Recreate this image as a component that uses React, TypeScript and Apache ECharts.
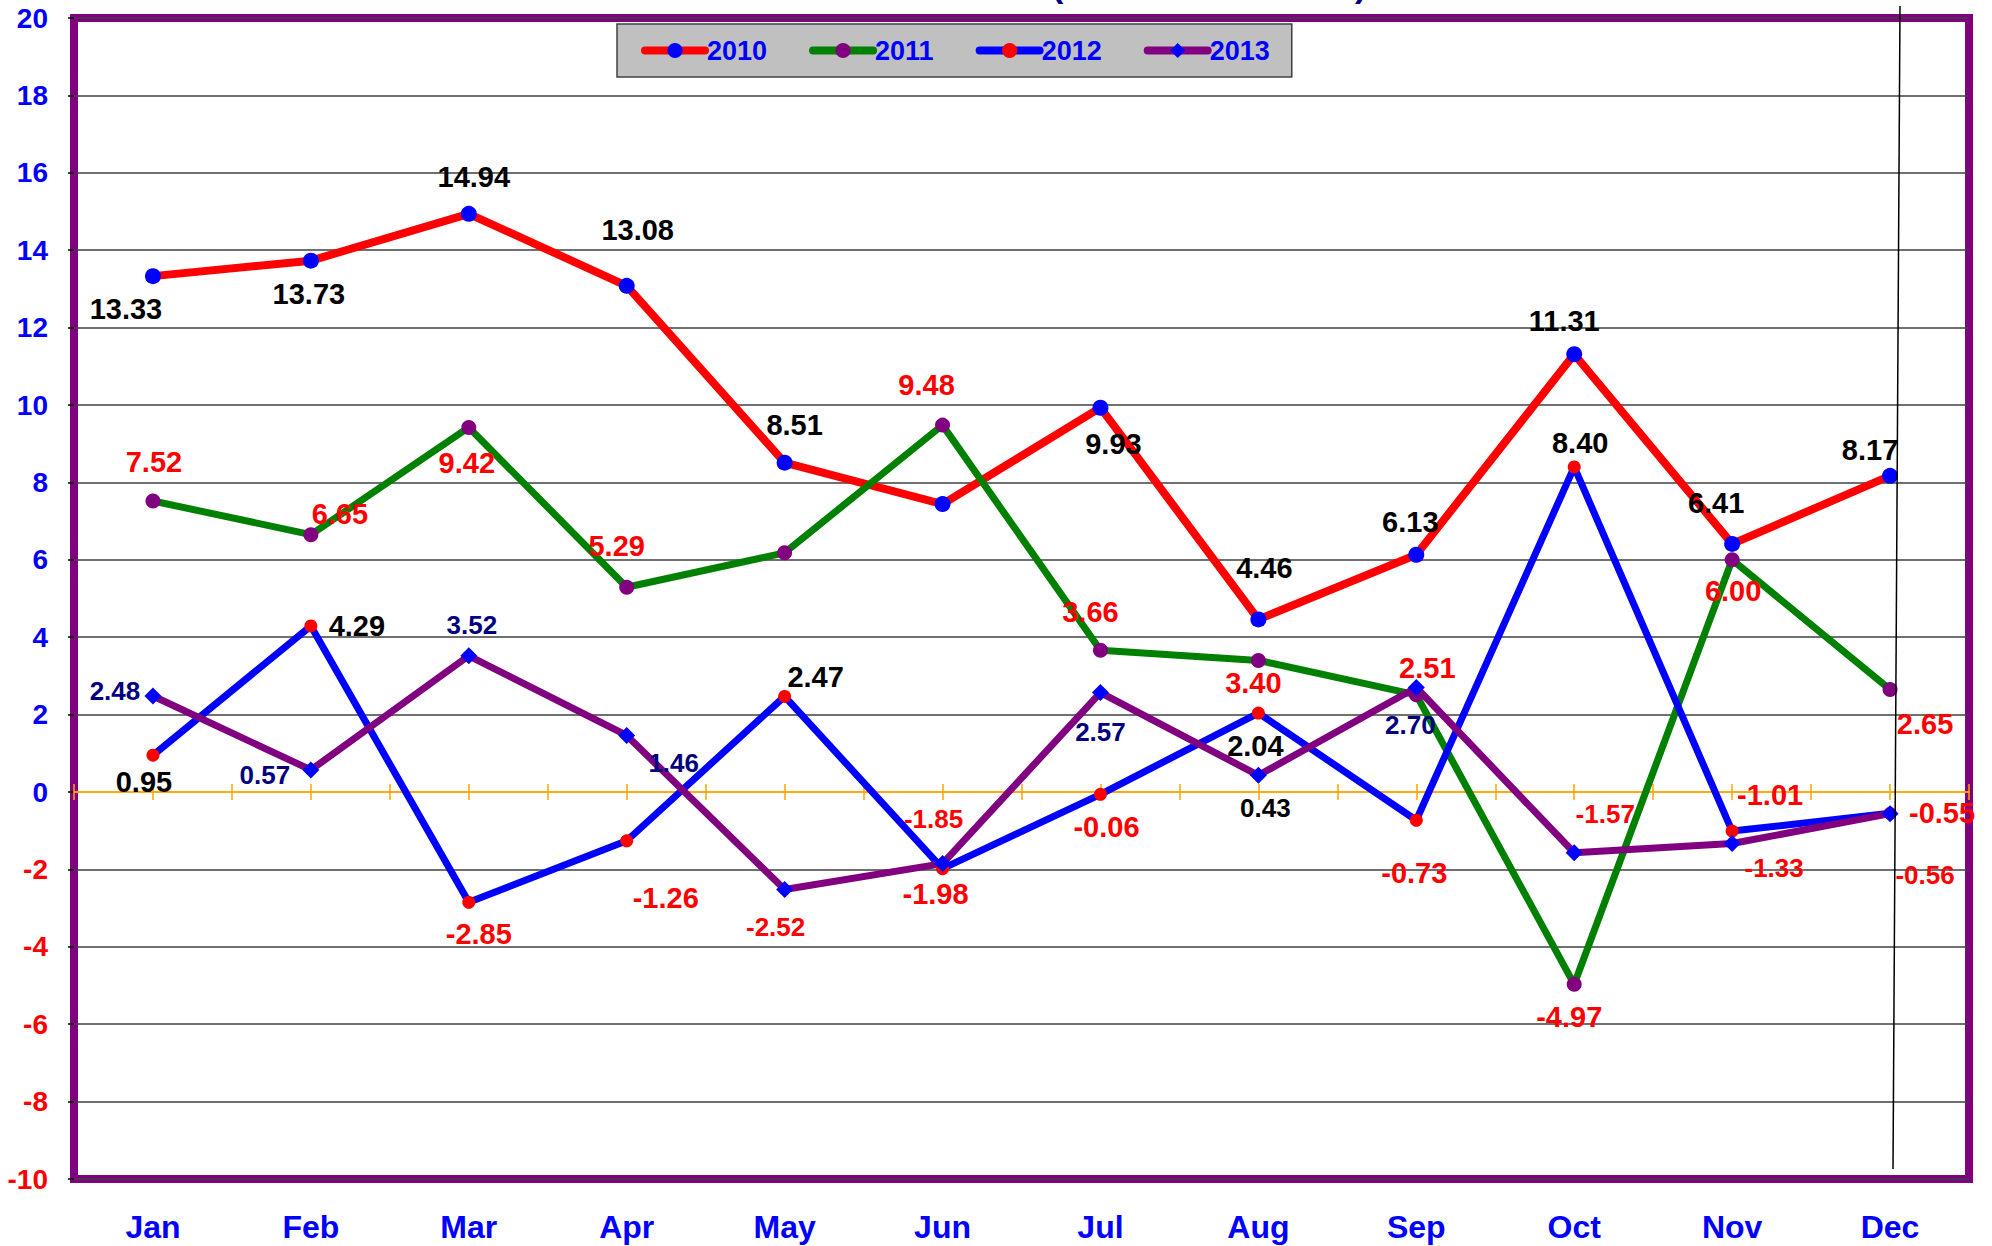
import React, { useEffect, useRef } from 'react';
import * as echarts from 'echarts';

const months = ['Jan', 'Feb', 'Mar', 'Apr', 'May', 'Jun', 'Jul', 'Aug', 'Sep', 'Oct', 'Nov', 'Dec'];
const seriesNames = ['2010', '2011', '2012', '2013'];
const values2010 = [13.33, 13.73, 14.94, 13.08, 8.51, 7.44, 9.93, 4.46, 6.13, 11.31, 6.41, 8.17];
const values2011 = [7.52, 6.65, 9.42, 5.29, 6.18, 9.48, 3.66, 3.4, 2.51, -4.97, 6.0, 2.65];
const values2012 = [0.95, 4.29, -2.85, -1.26, 2.47, -1.98, -0.06, 2.04, -0.73, 8.4, -1.01, -0.55];
const values2013 = [2.48, 0.57, 3.52, 1.46, -2.52, -1.85, 2.57, 0.43, 2.7, -1.57, -1.33, -0.56];
const yMin = -10;
const yMax = 20;
const yStep = 2;

// label placement (pixel offsets from each point); null = no label shown
const off2010 = [[-27, 33], [-2, 33], [5, -37], [11, -56], [10, -38], null, [13, 36], [6, -51], [-6, -33], [-10, -33], [-16, -41], [-20, -26]];
const off2011 = [[1, -39], [29, -21], [-2, 36], [-10, -41], null, [-16, -40], [-10, -38], [-5, 23], [11, -27], [-5, 33], [1, 31], [35, 35]];
const off2012 = [[-9, 27], [46, 0], [10, 32], [39, 57], [31, -19], [-7, 25], [6, 33], [-3, 33], [-2, 53], [6, -24], [38, -36], [52, 0]];
const off2013 = [[-38, -5], [-46, 5], [3, -31], [47, 28], [-9, 37], [-9, -45], [0, 39], [7, 33], [-6, 37], [31, -39], [42, 25], [35, 61]];

const FONT = "Arial, 'Liberation Sans', sans-serif";
const RED = '#FF0000';
const BLUE = '#0000FF';
const NAVY = '#000080';
const PURPLE = '#800080';
const GREEN = '#008000';
const ORANGE = '#FFA500';

function buildData(values: number[], offsets: any[], colorFn: (v: number, i: number) => string, fontSize: number) {
  return values.map((v, i) => {
    const off = offsets[i];
    if (!off) return { value: v, label: { show: false } };
    return { value: v, label: { show: true, offset: off, color: colorFn(v, i), fontSize } };
  });
}

const halfBands = Array.from({ length: 24 }, () => '');

function helperAxis(inside: boolean): any {
  return {
    type: 'category',
    data: halfBands,
    boundaryGap: true,
    position: 'bottom',
    axisLine: { show: true, onZero: true, onZeroAxisIndex: 0, lineStyle: { color: ORANGE, width: 1.5 } },
    axisTick: { show: true, inside, interval: 0, length: 8, lineStyle: { color: ORANGE, width: 1.5 } },
    axisLabel: { show: false },
    splitLine: { show: false },
  };
}

function makeOption(): any {
  const labelBase = {
    show: true,
    position: 'inside',
    fontFamily: FONT,
    fontWeight: 'bold',
    fontSize: 29,
    formatter: (p: any) => Number(p.value).toFixed(2),
  };
  const splitColors = [];
  for (let v = yMin; v <= yMax; v += yStep) splitColors.push(v === 0 ? 'rgba(0,0,0,0)' : '#404040');

  return {
    animation: false,
    backgroundColor: '#FFFFFF',
    grid: {
      left: 74,
      right: 23,
      top: 18,
      bottom: 67,
      show: true,
      borderColor: PURPLE,
      borderWidth: 8,
      backgroundColor: 'rgba(0,0,0,0)',
    },
    legend: {
      data: seriesNames,
      left: 617,
      top: 24,
      orient: 'horizontal',
      padding: [13, 22, 13, 24],
      backgroundColor: '#C0C0C0',
      borderColor: '#404040',
      borderWidth: 1.5,
      itemWidth: 60,
      itemHeight: 19,
      itemGap: 42,
      lineStyle: { width: 8, cap: 'round' },
      textStyle: { color: BLUE, fontSize: 27, fontWeight: 'bold', fontFamily: FONT, padding: [0, 0, 0, -3] },
    },
    xAxis: [
      {
        type: 'category',
        data: months,
        boundaryGap: true,
        position: 'bottom',
        axisLine: { show: false, onZero: false },
        axisTick: { show: false },
        splitLine: { show: false },
        axisLabel: { margin: 32, color: BLUE, fontSize: 32, fontWeight: 'bold', fontFamily: FONT, interval: 0 },
      },
      helperAxis(false),
      helperAxis(true),
    ],
    yAxis: {
      type: 'value',
      min: yMin,
      max: yMax,
      interval: yStep,
      axisLine: { show: false },
      axisTick: { show: true, length: 6, lineStyle: { color: '#000000', width: 1.5 } },
      axisLabel: {
        margin: 26,
        fontSize: 28,
        fontWeight: 'bold',
        fontFamily: FONT,
        color: (v: any) => (Number(v) < 0 ? RED : BLUE),
      },
      splitLine: { show: true, lineStyle: { color: splitColors, width: 1.5 } },
    },
    series: [
      {
        name: '2010',
        type: 'line',
        xAxisIndex: 0,
        data: buildData(values2010, off2010, () => '#000000', 29),
        symbol: 'circle',
        symbolSize: 16,
        lineStyle: { color: RED, width: 8 },
        itemStyle: { color: BLUE, borderWidth: 0 },
        label: labelBase,
        z: 3,
      },
      {
        name: '2011',
        type: 'line',
        xAxisIndex: 0,
        data: buildData(values2011, off2011, () => RED, 29),
        symbol: 'circle',
        symbolSize: 15,
        lineStyle: { color: GREEN, width: 7 },
        itemStyle: { color: PURPLE, borderWidth: 0 },
        label: labelBase,
        z: 3,
      },
      {
        name: '2012',
        type: 'line',
        xAxisIndex: 0,
        data: buildData(values2012, off2012, (v) => (v < 0 ? RED : '#000000'), 29),
        symbol: 'circle',
        symbolSize: 13,
        lineStyle: { color: BLUE, width: 7 },
        itemStyle: { color: RED, borderWidth: 0 },
        label: labelBase,
        z: 3,
      },
      {
        name: '2013',
        type: 'line',
        xAxisIndex: 0,
        data: buildData(values2013, off2013, (v, i) => (v < 0 ? RED : i === 7 ? '#000000' : NAVY), 26),
        symbol: 'diamond',
        symbolSize: 17,
        lineStyle: { color: PURPLE, width: 7 },
        itemStyle: { color: BLUE, borderWidth: 0 },
        label: labelBase,
        z: 3,
      },
    ],
    graphic: [
      {
        type: 'line',
        shape: { x1: 1900, y1: 6, x2: 1893, y2: 1169 },
        style: { stroke: '#000000', lineWidth: 1.5 },
        z: 100,
      },
      {
        type: 'text',
        x: 1052,
        y: -15,
        style: { text: '(', fill: NAVY, font: `bold 34px ${FONT}`, verticalAlign: 'middle' },
        z: 100,
      },
      {
        type: 'text',
        x: 1355,
        y: -15,
        style: { text: ')', fill: NAVY, font: `bold 34px ${FONT}`, verticalAlign: 'middle' },
        z: 100,
      },
    ],
  };
}

export default function App() {
  const ref = useRef<HTMLDivElement>(null);
  useEffect(() => {
    const chart = echarts.init(ref.current as HTMLDivElement, null, { renderer: 'svg' });
    chart.setOption(makeOption());
    return () => chart.dispose();
  }, []);
  return (
    <div
      ref={ref}
      style={{ position: 'fixed', left: 0, top: 0, width: 1992, height: 1246, background: '#FFFFFF' }}
    />
  );
}
